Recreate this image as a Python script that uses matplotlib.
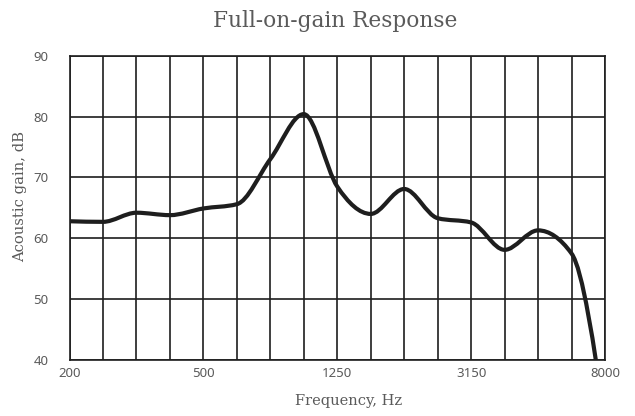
import numpy as np
import matplotlib.pyplot as plt
from matplotlib.path import Path
from matplotlib.patches import PathPatch

plt.rcParams["font.family"] = ["Noto Sans", "DejaVu Sans"]

# third-octave band centres, Hz
bands = [200, 250, 315, 400, 500, 630, 800, 1000, 1250, 1600, 2000,
         2500, 3150, 4000, 5000, 6300, 8000]
gain_db = [62.8, 62.7, 64.2, 63.8, 64.9, 65.6, 73.0, 80.4, 68.5, 64.0,
           68.1, 63.3, 62.6, 58.1, 61.3, 57.5, 30.0]
tick_labels = ["200", "500", "1250", "3150", "8000"]
y_ticks = [40, 50, 60, 70, 80, 90]

grey = "#5a5a5a"
ink = "#1e1e1e"


def monotone_tangents(y):
    # same rule as d3.curveMonotoneX, equal spacing
    y = np.asarray(y, float)
    s = np.diff(y)
    t = np.zeros_like(y)
    for i in range(1, len(y) - 1):
        s0, s1 = s[i - 1], s[i]
        p = (s0 + s1) / 2
        t[i] = (np.sign(s0) + np.sign(s1)) * min(abs(s0), abs(s1), 0.5 * abs(p))
    t[0] = (3 * s[0] - t[1]) / 2
    t[-1] = (3 * s[-1] - t[-2]) / 2
    return t


x = np.arange(len(bands))
tan = monotone_tangents(gain_db)
verts = [(x[0], gain_db[0])]
codes = [Path.MOVETO]
for i in range(len(x) - 1):
    verts += [(x[i] + 1 / 3, gain_db[i] + tan[i] / 3),
              (x[i + 1] - 1 / 3, gain_db[i + 1] - tan[i + 1] / 3),
              (x[i + 1], gain_db[i + 1])]
    codes += [Path.CURVE4] * 3

fig = plt.figure(figsize=(6.35, 4.16), dpi=100)
ax = fig.add_axes([69.5 / 635, 56 / 416, 535.5 / 635, 304.3 / 416])

ax.add_patch(PathPatch(Path(verts, codes), fill=False, lw=3.0,
                       edgecolor=ink, capstyle="round", joinstyle="round", zorder=3))

ax.set_xlim(0, len(bands) - 1)
ax.set_ylim(40, 90)
ax.set_xticks(x, minor=True)
ax.set_xticks(x[::4], tick_labels)
ax.set_yticks(y_ticks)
ax.grid(True, which="both", axis="x", color=ink, lw=1.2)
ax.grid(True, which="major", axis="y", color=ink, lw=1.2)
ax.tick_params(which="both", length=0, labelsize=9.5, labelcolor=grey)
ax.tick_params(axis="y", pad=15)
ax.tick_params(axis="x", pad=5)
for sp in ax.spines.values():
    sp.set_color(ink)
    sp.set_linewidth(1.2)

fig.text(335 / 635, 1 - 21 / 416, "Full-on-gain Response", ha="center", va="center",
         family="DejaVu Serif", fontsize=15.6, color=grey)
fig.text(349 / 635, 1 - 401 / 416, "Frequency, Hz", ha="center", va="center",
         family="DejaVu Serif", fontsize=10.5, color=grey)
fig.text(20 / 635, 1 - 197 / 416, "Acoustic gain, dB", ha="center", va="center",
         rotation=90, family="DejaVu Serif", fontsize=10.6, color=grey)

fig.savefig("out.png", dpi=100)
